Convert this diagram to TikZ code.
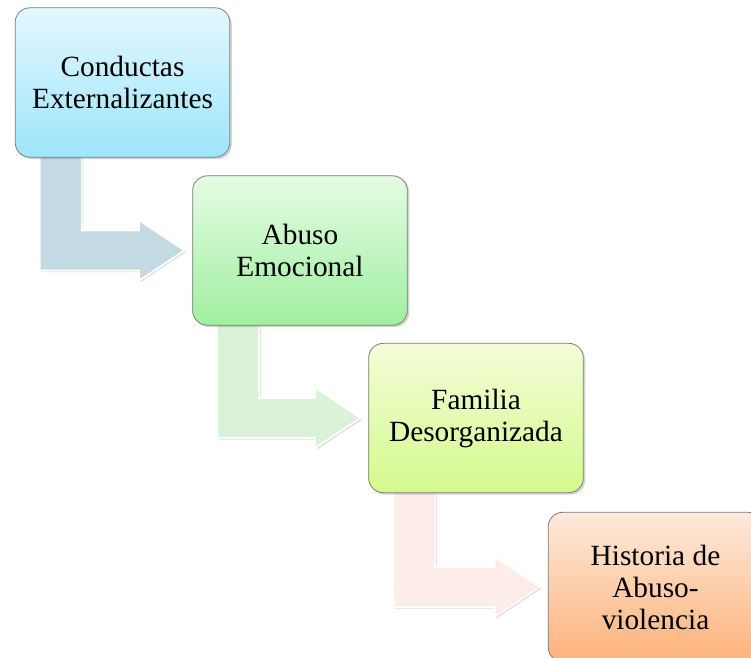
\documentclass[tikz,border=0pt]{standalone}
\usepackage{fontspec}
\setmainfont{Liberation Serif}
\usepackage{tikz}
\usetikzlibrary{shapes,positioning,shadows,calc,backgrounds}
\usepackage{xcolor}
\definecolor{cyantop}{RGB}{226, 248, 254}
\definecolor{cyanbot}{RGB}{158, 229, 251}
\definecolor{greentop}{RGB}{228, 252, 228}
\definecolor{greenbot}{RGB}{160, 239, 160}
\definecolor{limetop}{RGB}{243, 253, 216}
\definecolor{limebot}{RGB}{212, 250, 140}
\definecolor{peachtop}{RGB}{253, 234, 219}
\definecolor{peachbot}{RGB}{253, 178, 122}
\definecolor{arrblue}{RGB}{195, 217, 227}
\definecolor{arrgreen}{RGB}{218, 243, 216}
\definecolor{arrpink}{RGB}{252, 237, 233}
\definecolor{boxgray}{RGB}{125, 125, 125}
\tikzstyle{stage} = [draw=boxgray, line width=0.6pt, rounded corners=11pt,
  minimum width=161pt, minimum height=112pt, align=center,
  font=\fontsize{22}{24}\selectfont,
  drop shadow={shadow xshift=1.5pt, shadow yshift=-1.5pt, opacity=0.35}]
\tikzstyle{elbow} = [draw=white, line width=1.2pt,
  drop shadow={shadow xshift=1.2pt, shadow yshift=-1.2pt, opacity=0.25}]
% bent arrow from the foot of one box to the west side of the next
\newcommand{\bentarrow}[3]{%
  \filldraw[elbow, fill=#3]
    let \p1 = (#1.south west), \p2 = (#2.west) in
    (\x1+18.75pt, \y1+4pt) -- (\x1+50.25pt, \y1+4pt) -- (\x1+50.25pt, \y2+15pt)
    -- (\x2-39.75pt, \y2+15pt) -- (\x2-39.75pt, \y2+22.5pt) -- (\x2-6pt, \y2)
    -- (\x2-39.75pt, \y2-22.5pt) -- (\x2-39.75pt, \y2-15pt)
    -- (\x1+18.75pt, \y2-15pt) -- cycle;
}
\begin{document}
\begin{tikzpicture}[x=0.75pt, y=0.75pt]
    \useasboundingbox (0,0) rectangle (751,658);
    \clip (0,0) rectangle (751,658);

    % Boxes
    \node[stage, top color=cyantop, bottom color=cyanbot] (c1) at (122.5,575.5) {Conductas\\Externalizantes};
    \node[stage, top color=greentop, bottom color=greenbot] (c2) at (300,407.5) {Abuso\\Emocional};
    \node[stage, top color=limetop, bottom color=limebot] (c3) at (476,240) {Familia\\Desorganizada};
    \node[stage, top color=peachtop, bottom color=peachbot] (c4) at (655.5,71) {Historia de\\Abuso-\\violencia};

    % Arrows, behind the boxes
    \begin{pgfonlayer}{background}
    \bentarrow{c1}{c2}{arrblue}
    \bentarrow{c2}{c3}{arrgreen}
    \bentarrow{c3}{c4}{arrpink}
    \end{pgfonlayer}
\end{tikzpicture}
\end{document}
